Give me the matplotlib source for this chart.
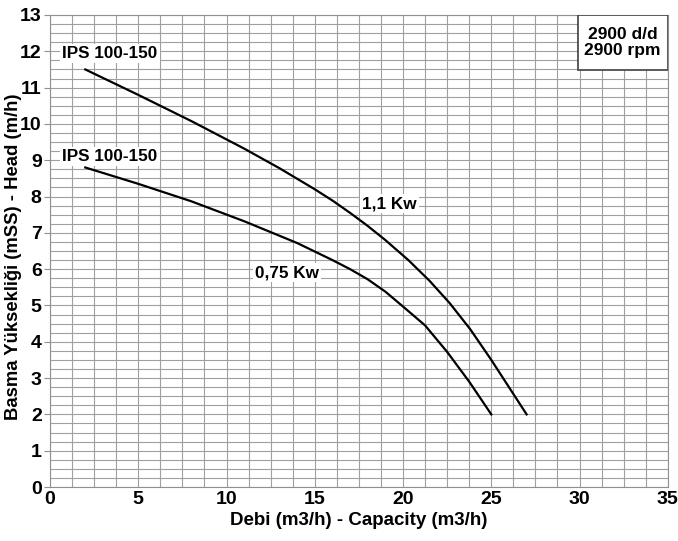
import matplotlib
matplotlib.use("Agg")
import matplotlib.pyplot as plt
from matplotlib.patches import Rectangle
from matplotlib.ticker import MultipleLocator

plt.rcParams["font.family"] = ["Liberation Sans", "DejaVu Sans"]
plt.rcParams["font.weight"] = "bold"

# pump curves (Q in m3/h, H in m)
q_11 = [2, 5, 8, 11, 13, 15, 16, 17, 18, 19, 20.3, 21.5, 22.65, 23.8, 25, 27]
h_11 = [11.5, 10.8, 10.08, 9.32, 8.78, 8.2, 7.89, 7.55, 7.19, 6.8, 6.25, 5.68, 5.06, 4.35, 3.5, 2.0]
q_075 = [2, 5, 8, 11, 14, 16, 17, 18, 19, 20, 21.25, 22.5, 23.75, 25]
h_075 = [8.8, 8.35, 7.87, 7.32, 6.72, 6.25, 6.0, 5.72, 5.38, 4.97, 4.45, 3.72, 2.9, 2.0]

fig = plt.figure(figsize=(6.78, 5.41), dpi=100)
ax = fig.add_axes([0.0737, 0.0998, 0.9113, 0.8725])

ax.plot(q_11, h_11, color="black", lw=1.6, solid_joinstyle="round")
ax.plot(q_075, h_075, color="black", lw=1.6, solid_joinstyle="round")

ax.set_xlim(0, 35)
ax.set_ylim(0, 13)
ax.xaxis.set_major_locator(MultipleLocator(5))
ax.xaxis.set_minor_locator(MultipleLocator(1.25))
ax.yaxis.set_major_locator(MultipleLocator(1))
ax.yaxis.set_minor_locator(MultipleLocator(0.25))
ax.grid(which="both", color="#a0a0a0", lw=0.8)
ax.set_axisbelow(True)
for s in ax.spines.values():
    s.set_color("#909090")
ax.tick_params(axis="both", which="major", labelsize=14, length=4, color="#909090")
ax.tick_params(axis="both", which="minor", length=0)
ax.tick_params(axis="x", length=0, pad=3)
ax.tick_params(axis="y", pad=2)

ax.set_xlabel("Debi (m3/h) - Capacity (m3/h)", fontsize=13.5, fontweight="bold", labelpad=3)
ax.set_ylabel("Basma Yüksekliği (mSS) - Head (m/h)", fontsize=13.3, fontweight="bold")
ax.yaxis.set_label_coords(-0.046, 0.487)

bb = dict(facecolor="white", edgecolor="none", pad=1.5)
ax.text(0.7, 11.95, "IPS 100-150", fontsize=12.3, fontweight="bold", ha="left", va="center", bbox=bb)
ax.text(0.7, 9.1, "IPS 100-150", fontsize=12.3, fontweight="bold", ha="left", va="center", bbox=bb)
ax.text(17.7, 7.8, "1,1 Kw", fontsize=12.3, fontweight="bold", ha="left", va="center", bbox=bb)
ax.text(11.6, 5.9, "0,75 Kw", fontsize=12.3, fontweight="bold", ha="left", va="center", bbox=bb)

# speed box flush with the top-right corner
ax.add_patch(Rectangle((0.854, 0.8835), 0.146, 0.1165, transform=ax.transAxes,
                       facecolor="white", edgecolor="#404040", lw=1.2, zorder=3))
ax.text(0.927, 0.9418, "2900 d/d\n2900 rpm", transform=ax.transAxes, fontsize=12.5,
        fontweight="bold", ha="center", va="center", linespacing=1.05, zorder=4)

fig.savefig("out.png", dpi=100)
